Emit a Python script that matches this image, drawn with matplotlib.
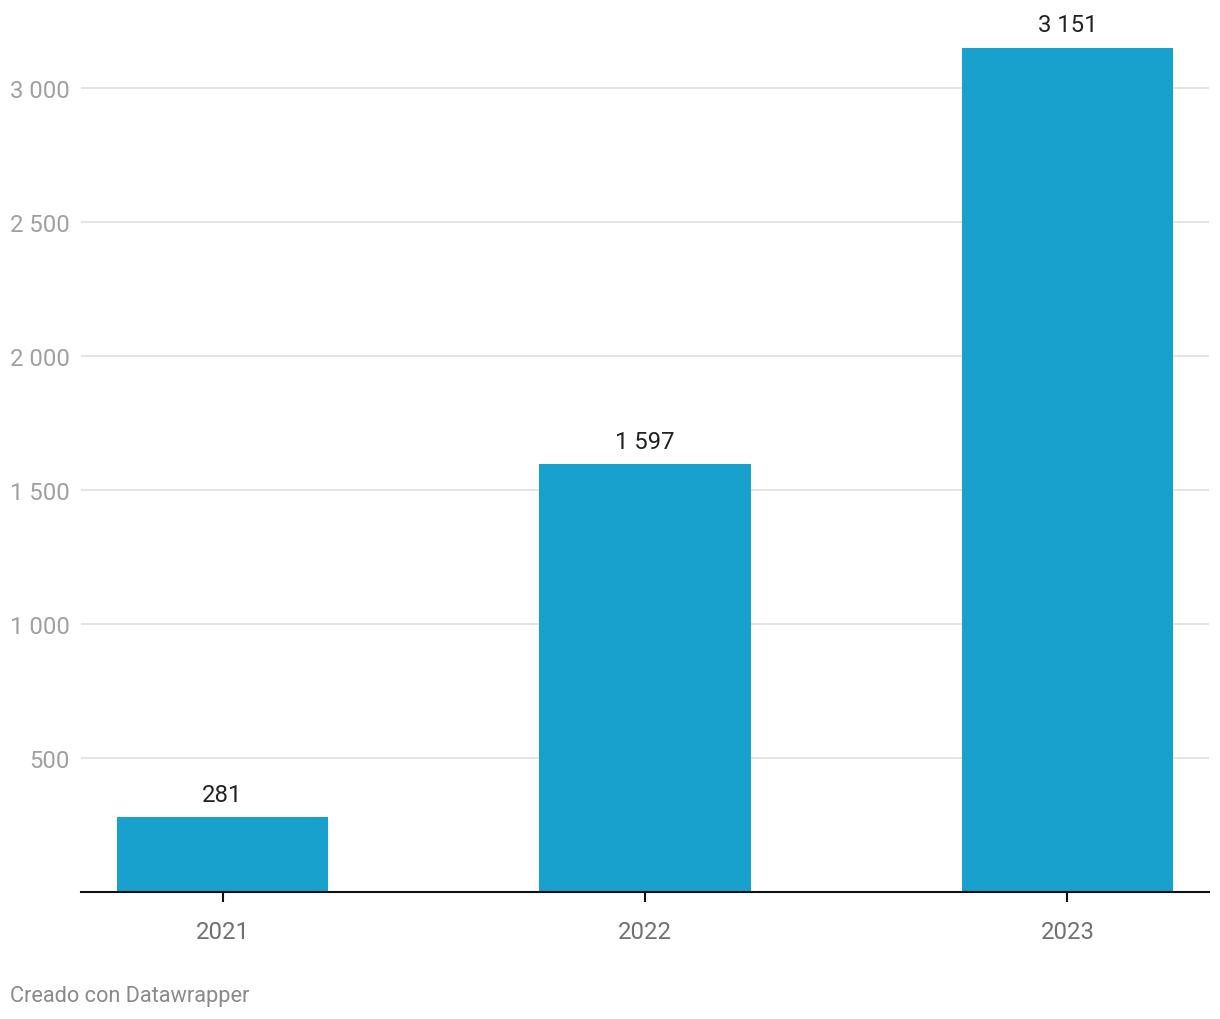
import matplotlib.pyplot as plt
from matplotlib.ticker import FuncFormatter

plt.rcParams['font.family'] = ['Roboto', 'DejaVu Sans']

# Datos
years = ['2021', '2022', '2023']
values = [281, 1597, 3151]
yticks = [500, 1000, 1500, 2000, 2500, 3000]


def fmt(v):
    return f'{int(v):,}'.replace(',', ' ')


fig = plt.figure(figsize=(12.2, 10.2), dpi=100)
ax = fig.add_axes([81 / 1220, 1 - 893 / 1020, 1128 / 1220, 853 / 1020])

x = range(len(years))
bars = ax.bar(x, values, width=0.5, color='#18a1cd', zorder=3)

for xi, v in zip(x, values):
    ax.annotate(fmt(v), (xi, v), xytext=(0, 8), textcoords='offset points',
                ha='center', va='bottom', fontsize=17.2, color='#222222')

ax.set_xlim(-0.335, 2.335)
ax.set_ylim(0, 3183)
ax.set_yticks(yticks)
ax.yaxis.set_major_formatter(FuncFormatter(lambda v, p: fmt(v)))
ax.set_xticks(list(x))
ax.set_xticklabels(years)

ax.grid(axis='y', color='#e2e2e2', linewidth=1.3, zorder=0)
for s in ['top', 'right', 'left']:
    ax.spines[s].set_visible(False)
ax.spines['bottom'].set_color('#111111')
ax.spines['bottom'].set_linewidth(1.5)
ax.spines['bottom'].set_zorder(4)

ax.tick_params(axis='y', length=0, pad=8, labelsize=17.2, labelcolor='#a0a0a0')
ax.tick_params(axis='x', length=7, width=1.5, color='#111111', pad=13,
               labelsize=17.2, labelcolor='#707070')

fig.text(10 / 1220, 1 - 997 / 1020, 'Creado con Datawrapper', fontsize=15.7,
         color='#8a8a8a', ha='left', va='center')

fig.savefig('out.png', dpi=100, facecolor='white')
